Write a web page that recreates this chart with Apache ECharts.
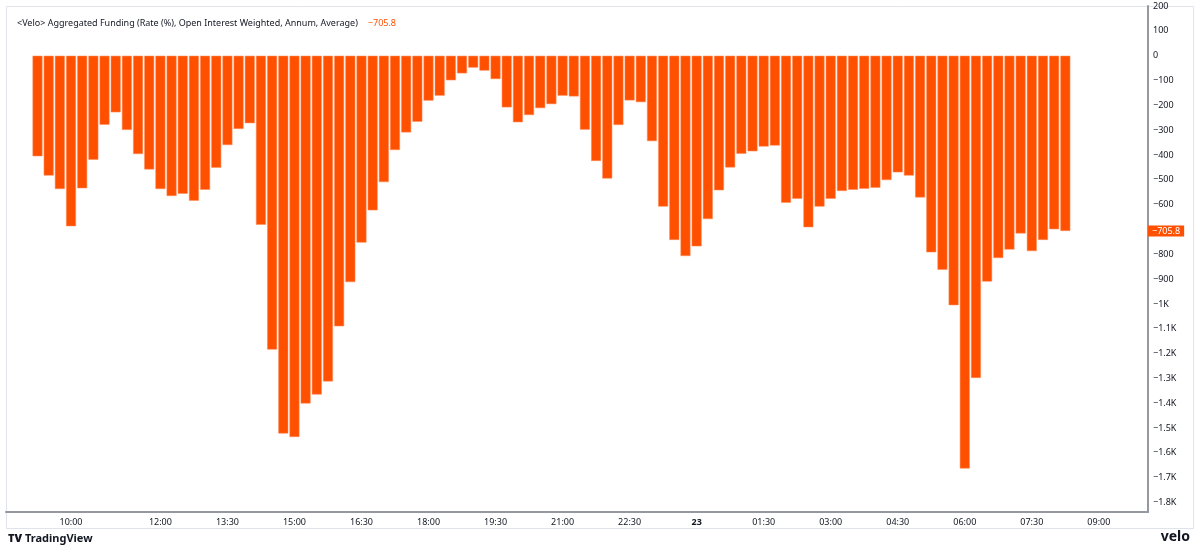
<!DOCTYPE html>
<html>
<head>
<meta charset="utf-8">
<script src="https://cdn.jsdelivr.net/npm/echarts@6/dist/echarts.min.js"></script>
<style>
  html, body { margin: 0; padding: 0; background: #fff; }
  #chart { width: 1200px; height: 550px; }
</style>
</head>
<body>
<div id="chart"></div>
<script>
// 15 minute bars, first one at 09:15, last one at 08:15 next day
const fundingValues = [
  -405, -483, -537, -687, -534, -419, -278, -228, -299, -396,
  -458, -537, -565, -556, -584, -540, -451, -360, -295, -272,
  -681, -1184, -1522, -1536, -1401, -1365, -1312, -1090, -912, -753,
  -623, -509, -380, -309, -266, -181, -161, -99, -71, -48,
  -60, -94, -208, -268, -239, -211, -195, -161, -164, -298,
  -424, -495, -279, -180, -187, -344, -608, -742, -807, -768,
  -658, -542, -450, -395, -385, -366, -362, -592, -576, -691,
  -608, -576, -545, -540, -536, -532, -501, -470, -483, -571,
  -792, -862, -1005, -1663, -1298, -910, -815, -781, -716, -787,
  -742, -699, -705.8
];
// time axis labels and the bar slot (from 09:15) where each sits
const tickLabels = ["10:00", "12:00", "13:30", "15:00", "16:30", "18:00", "19:30", "21:00",
  "22:30", "23", "01:30", "03:00", "04:30", "06:00", "07:30", "09:00"];
const tickSlots = [3, 11, 17, 23, 29, 35, 41, 47, 53, 59, 65, 71, 77, 83, 89, 95];
// price scale ticks (-700 is hidden behind the last value tag)
const priceTicks = [200, 100, 0, -100, -200, -300, -400, -500, -600, -800, -900,
  -1000, -1100, -1200, -1300, -1400, -1500, -1600, -1700, -1800];

const lastValue = fundingValues[fundingValues.length - 1];
const font = "Noto Sans";
const orange = "#FF5000";

function fmtPrice(v) {
  let a = Math.abs(v);
  let s = a >= 1000 ? (a / 1000) + "K" : String(a);
  return (v < 0 ? "\u2212" : "") + s;
}

const chart = echarts.init(document.getElementById("chart"));
const option = {
  animation: false,
  backgroundColor: "#fff",
  title: {
    left: 12,
    top: 9,
    text: "{a|<Velo> Aggregated Funding (Rate (%), Open Interest Weighted, Annum, Average)}  {b|" + fmtPrice(lastValue) + "}",
    textStyle: {
      rich: {
        a: { fontFamily: font, fontSize: 9, fontWeight: "normal", color: "#131722" },
        b: { fontFamily: font, fontSize: 9, fontWeight: "normal", color: orange }
      }
    }
  },
  grid: { left: 6, right: 52, top: 6, bottom: 38 },
  xAxis: {
    type: "value",
    min: -2.82,
    max: 99.4,
    splitLine: { show: false },
    axisLine: { show: true, onZero: false, lineStyle: { color: "#9598a1", width: 2 } },
    axisTick: { show: false },
    axisLabel: {
      customValues: tickSlots,
      formatter: function (v) {
        let i = tickSlots.indexOf(v);
        if (i < 0) return "";
        // day change label is bold on TradingView
        return tickLabels[i].indexOf(":") < 0 ? "{d|" + tickLabels[i] + "}" : tickLabels[i];
      },
      fontFamily: font,
      fontSize: 9,
      color: "#131722",
      margin: 6,
      rich: { d: { fontWeight: "bold", fontFamily: font, fontSize: 9, color: "#131722" } }
    }
  },
  yAxis: {
    type: "value",
    position: "right",
    min: -1838,
    max: 200.4,
    splitLine: { show: false },
    axisLine: { show: true, onZero: false, lineStyle: { color: "#9598a1", width: 2 } },
    axisTick: { show: false },
    axisLabel: {
      customValues: priceTicks,
      formatter: fmtPrice,
      fontFamily: font,
      fontSize: 9,
      color: "#131722",
      margin: 5
    }
  },
  series: [
    {
      type: "bar",
      barWidth: 10,
      data: fundingValues.map((v, i) => [i, v]),
      itemStyle: {
        color: orange,
        borderColor: "rgba(255,140,90,0.9)",
        borderWidth: 0.6
      }
    }
  ],
  graphic: [
    {
      type: "rect",
      shape: { x: 6.5, y: 6.5, width: 1187, height: 522 },
      style: { fill: "none", stroke: "#e0e3eb", lineWidth: 1 },
      silent: true
    },
    {
      type: "text",
      left: 8,
      top: 533,
      style: { text: "TV", fontFamily: font, fontSize: 11, fontWeight: 900, fill: "#131722" }
    },
    {
      type: "text",
      left: 25,
      top: 533,
      style: { text: "TradingView", fontFamily: font, fontSize: 11, fontWeight: "bold", fill: "#131722" }
    },
    {
      type: "text",
      right: 10,
      top: 530,
      style: { text: "velo", fontFamily: font, fontSize: 14, fontWeight: "bold", fill: "#131722" }
    }
  ]
};
chart.setOption(option);

// last value tag on the price scale
const tagY = chart.convertToPixel({ yAxisIndex: 0 }, lastValue);
chart.setOption({
  graphic: [
    {
      type: "text",
      id: "lastTag",
      z: 100,
      x: 1148,
      y: tagY,
      style: {
        text: fmtPrice(lastValue),
        fontFamily: font,
        fontSize: 9,
        fill: "#fff",
        backgroundColor: orange,
        padding: [1, 4, 1, 4],
        verticalAlign: "middle"
      }
    }
  ]
});
</script>
</body>
</html>
